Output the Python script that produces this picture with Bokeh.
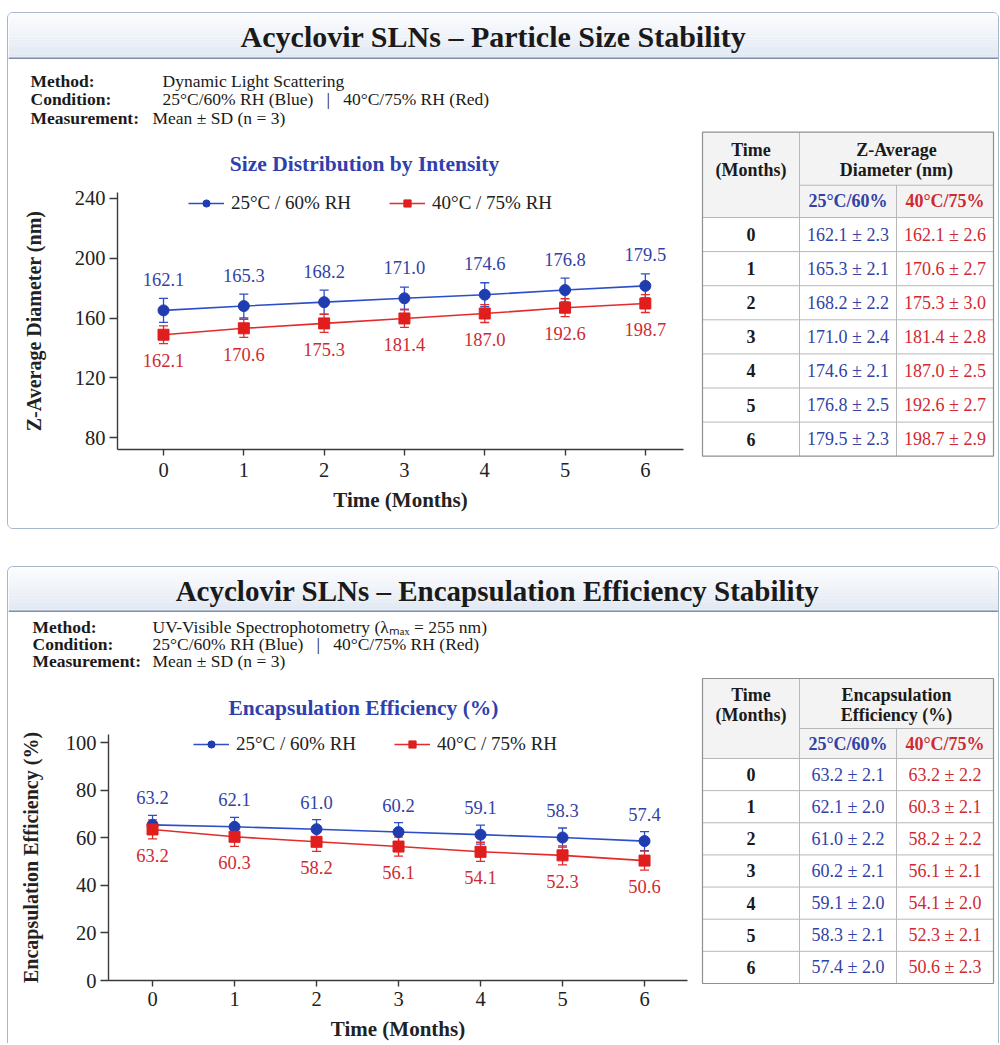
from bokeh.plotting import figure
from bokeh.models import (ColumnDataSource, Range1d, Legend, LegendItem,
                          Whisker, TeeHead, Spacer)
from bokeh.layouts import column, row
from bokeh.embed import file_html
from bokeh.resources import INLINE
from bokeh.core.properties import value

FONT = "Liberation Serif"
BLUE_LINE = "#2d4ec8"
BLUE_MARK = "#1f3cb0"
BLUE_TXT = "#3142a6"
RED_LINE = "#e32b2b"
RED_MARK = "#e01e1e"
RED_TXT = "#cf2a32"
DARK = "#1a1a1a"
NB = "\u00a0"

# ---------------- shared ----------------
months = [0, 1, 2, 3, 4, 5, 6]
legend_labels = ["25°C / 60% RH", "40°C / 75% RH"]
table_cond = ["25°C/60%", "40°C/75%"]
info_keys = ["Method:", "Condition:", "Measurement:"]
table_time_head = "Time\n(Months)"
x_label = "Time (Months)"
condition_text = f"25°C/60% RH (Blue){NB*3}|{NB*3}40°C/75% RH (Red)"

# ---------------- panel 1: particle size ----------------
size_title = "Acyclovir SLNs – Particle Size Stability"
size_info_vals = ["Dynamic Light Scattering", condition_text, "Mean ± SD (n = 3)"]
size_chart_title = "Size Distribution by Intensity"
size_ylabel = "Z-Average Diameter (nm)"
size_table_head = "Z-Average\nDiameter (nm)"
size_yticks = [80, 120, 160, 200, 240]
# positions of the plotted markers / error bars as drawn in the picture
size_plot_blue = [165.1, 168.0, 170.6, 173.2, 175.6, 178.7, 181.5]
size_plot_red = [148.8, 153.1, 156.4, 159.7, 163.0, 166.9, 169.7]
size_bar_blue = [8.0, 8.0, 8.0, 7.5, 8.0, 8.0, 8.0]
size_bar_red = [6.0, 6.0, 6.0, 6.0, 6.0, 6.0, 6.0]
# annotated / tabulated values
size_mean_blue = [162.1, 165.3, 168.2, 171.0, 174.6, 176.8, 179.5]
size_mean_red = [162.1, 170.6, 175.3, 181.4, 187.0, 192.6, 198.7]
size_sd_blue = [2.3, 2.1, 2.2, 2.4, 2.1, 2.5, 2.3]
size_sd_red = [2.6, 2.7, 3.0, 2.8, 2.5, 2.7, 2.9]

# ---------------- panel 2: encapsulation efficiency ----------------
ee_title = "Acyclovir SLNs – Encapsulation Efficiency Stability"
ee_info_vals = ["UV-Visible Spectrophotometry (λₘₐₓ = 255 nm)", condition_text,
                "Mean ± SD (n = 3)"]
ee_chart_title = "Encapsulation Efficiency (%)"
ee_ylabel = "Encapsulation Efficiency (%)"
ee_table_head = "Encapsulation\nEfficiency (%)"
ee_yticks = [0, 20, 40, 60, 80, 100]
ee_plot_blue = [65.4, 64.6, 63.6, 62.4, 61.3, 60.1, 58.6]
ee_plot_red = [63.5, 60.4, 58.3, 56.3, 54.1, 52.6, 50.4]
ee_bar_blue = [4.0, 4.0, 4.0, 4.0, 4.0, 4.0, 4.0]
ee_bar_red = [4.0, 4.0, 4.0, 4.0, 4.0, 4.0, 4.0]
ee_mean_blue = [63.2, 62.1, 61.0, 60.2, 59.1, 58.3, 57.4]
ee_mean_red = [63.2, 60.3, 58.2, 56.1, 54.1, 52.3, 50.6]
ee_sd_blue = [2.1, 2.0, 2.2, 2.1, 2.0, 2.1, 2.0]
ee_sd_red = [2.2, 2.1, 2.2, 2.1, 2.0, 2.1, 2.3]


def blank(p):
    p.axis.visible = False
    p.grid.visible = False
    p.outline_line_color = None


def blend(c1, c2, t):
    a = [int(c1[i:i + 2], 16) for i in (1, 3, 5)]
    b = [int(c2[i:i + 2], 16) for i in (1, 3, 5)]
    return "#" + "".join(f"{round(x + (y - x) * t):02x}" for x, y in zip(a, b))


def make_header(title, w, h, title_x, title_y, fsize):
    p = figure(width=w, height=h, x_range=Range1d(0, w), y_range=Range1d(0, h),
               output_backend="svg", toolbar_location=None, min_border=0)
    blank(p)
    n = 16
    tops = [h - i * h / n for i in range(n)]
    bots = [h - (i + 1) * h / n for i in range(n)]
    cols = [blend("#fbfcfe", "#e1e8f2", i / (n - 1)) for i in range(n)]
    p.quad(left=0, right=w, top=tops, bottom=bots, fill_color=cols, line_color=None)
    p.segment(x0=[0], y0=[1], x1=[w], y1=[1], line_color="#7f90a8", line_width=2)
    p.text(x=[title_x], y=[title_y], text=[title], text_align="center",
           text_baseline="middle", text_font=value(FONT), text_font_size=fsize,
           text_font_style="bold", text_color=DARK)
    return p


def make_info(W, H, vals, key_x, val_x, ys, ctitle, ctitle_x, ctitle_y):
    p = figure(width=W, height=H, x_range=Range1d(0, W), y_range=Range1d(H, 0),
               output_backend="svg", toolbar_location=None, min_border=0)
    blank(p)
    p.text(x=[key_x] * 3, y=ys, text=info_keys, text_baseline="middle",
           text_font=value(FONT), text_font_size="17.5px", text_font_style="bold",
           text_color=DARK)
    p.text(x=val_x, y=ys, text=vals, text_baseline="middle",
           text_font=value(FONT), text_font_size="17.5px", text_color=DARK)
    p.text(x=[ctitle_x], y=[ctitle_y], text=[ctitle], text_align="center",
           text_baseline="middle", text_font=value(FONT), text_font_size="21.5px",
           text_font_style="bold", text_color="#2f3fae")
    return p


def make_chart(W, H, bl, br, bt, bb, xr, yr, yticks, ylabel, ystand, xlstand, xstand,
               blue, red, bar_b, bar_r, lab_b, lab_r, off_b, off_r, leg_x, leg_y):
    p = figure(width=W, height=H, x_range=Range1d(*xr), y_range=Range1d(*yr),
               output_backend="svg", toolbar_location=None,
               min_border_left=bl, min_border_right=br,
               min_border_top=bt, min_border_bottom=bb)
    p.grid.visible = False
    p.outline_line_color = None
    p.xaxis.ticker = months
    p.yaxis.ticker = yticks
    for ax in (p.xaxis[0], p.yaxis[0]):
        ax.axis_line_color = "#3a3a3a"
        ax.axis_line_width = 1.4
        ax.major_tick_line_color = "#3a3a3a"
        ax.major_tick_line_width = 1.4
        ax.major_tick_in = 0
        ax.minor_tick_line_color = None
        ax.major_label_text_font = FONT
        ax.major_label_text_font_size = "20.5px"
        ax.major_label_text_color = "#222222"
        ax.axis_label_text_font = FONT
        ax.axis_label_text_font_style = "bold"
        ax.axis_label_text_color = "#222222"
    p.xaxis.axis_label_text_font_size = "21px"
    p.yaxis.axis_label_text_font_size = "20px"
    p.xaxis.major_tick_out = 6
    p.yaxis.major_tick_out = 8
    p.xaxis.axis_label = x_label
    p.xaxis.major_label_standoff = xlstand
    p.xaxis.axis_label_standoff = xstand
    p.yaxis.axis_label = ylabel
    p.yaxis.major_label_standoff = 4
    p.yaxis.axis_label_standoff = ystand

    # error bars
    for vals, bars, col in ((blue, bar_b, BLUE_LINE), (red, bar_r, RED_LINE)):
        src = ColumnDataSource(dict(x=months,
                                    upper=[v + e for v, e in zip(vals, bars)],
                                    lower=[v - e for v, e in zip(vals, bars)]))
        p.add_layout(Whisker(base="x", upper="upper", lower="lower", source=src,
                             line_color=col, line_width=1.3,
                             upper_head=TeeHead(size=9, line_color=col, line_width=1.3),
                             lower_head=TeeHead(size=9, line_color=col, line_width=1.3)))

    rbl = p.line(months, blue, line_color=BLUE_LINE, line_width=1.6)
    rbs = p.scatter(months, blue, marker="circle", size=11, fill_color=BLUE_MARK,
                    line_color=BLUE_MARK)
    rrl = p.line(months, red, line_color=RED_LINE, line_width=1.6)
    rrs = p.scatter(months, red, marker="square", size=11, fill_color=RED_MARK,
                    line_color=RED_MARK)

    p.text(x=months, y=blue, text=[f"{v:.1f}" for v in lab_b], y_offset=off_b,
           text_align="center", text_baseline="middle", text_font=value(FONT),
           text_font_size="18.5px", text_color=BLUE_TXT)
    p.text(x=months, y=red, text=[f"{v:.1f}" for v in lab_r], y_offset=off_r,
           text_align="center", text_baseline="middle", text_font=value(FONT),
           text_font_size="18.5px", text_color=RED_TXT)

    leg = Legend(items=[LegendItem(label=legend_labels[0], renderers=[rbl, rbs]),
                        LegendItem(label=legend_labels[1], renderers=[rrl, rrs])],
                 orientation="horizontal", location=(leg_x, leg_y),
                 border_line_color=None, background_fill_alpha=0,
                 label_text_font=FONT, label_text_font_size="19px",
                 label_text_color="#222222",
                 glyph_width=36, glyph_height=18, label_height=18,
                 spacing=38, padding=0, margin=0, label_standoff=7)
    p.add_layout(leg)
    return p


def make_table(W, H, top_off, sub_h, head_h, row_h, colw, x0, head, sd_b, sd_r, m_b, m_r):
    p = figure(width=W, height=H,
               x_range=Range1d(-x0 / colw, (W - x0) / colw),
               y_range=Range1d(H - top_off, -top_off),
               output_backend="svg", toolbar_location=None, min_border=0)
    blank(p)
    n = len(months)
    bottom = head_h + n * row_h
    p.quad(left=[0], right=[3], top=[0], bottom=[head_h], fill_color="#f3f3f3",
           line_color=None)
    p.quad(left=[0], right=[3], top=[head_h], bottom=[bottom], fill_color="#ffffff",
           line_color=None)
    ys = [head_h + i * row_h for i in range(n)]
    p.segment(x0=[0] * n, y0=ys, x1=[3] * n, y1=ys, line_color="#b8b8b8", line_width=1)
    p.segment(x0=[1, 1, 2], y0=[sub_h, 0, sub_h], x1=[3, 1, 2], y1=[sub_h, bottom, bottom],
              line_color="#b8b8b8", line_width=1)
    p.quad(left=[0], right=[3], top=[0], bottom=[bottom], fill_color=None,
           line_color="#8f8f8f", line_width=1.2)
    p.text(x=[0.5, 2], y=[sub_h / 2 + 1, sub_h / 2 + 1], text=[table_time_head, head],
           text_align="center", text_baseline="middle", text_font=value(FONT),
           text_font_size="18px", text_font_style="bold", text_color=DARK,
           text_line_height=1.0)
    p.text(x=[1.5, 2.5], y=[(sub_h + head_h) / 2] * 2, text=table_cond,
           text_align="center", text_baseline="middle", text_font=value(FONT),
           text_font_size="18px", text_font_style="bold", text_color=[BLUE_TXT, RED_TXT])
    yc = [head_h + (i + 0.5) * row_h for i in range(n)]
    p.text(x=[0.5] * n, y=yc, text=[str(m) for m in months], text_align="center",
           text_baseline="middle", text_font=value(FONT), text_font_size="18px",
           text_font_style="bold", text_color=DARK)
    p.text(x=[1.5] * n, y=yc, text=[f"{m:.1f} ± {s:.1f}" for m, s in zip(m_b, sd_b)],
           text_align="center", text_baseline="middle", text_font=value(FONT),
           text_font_size="18px", text_color=BLUE_TXT)
    p.text(x=[2.5] * n, y=yc, text=[f"{m:.1f} ± {s:.1f}" for m, s in zip(m_r, sd_r)],
           text_align="center", text_baseline="middle", text_font=value(FONT),
           text_font_size="18px", text_color=RED_TXT)
    return p


PANEL1_STYLE = {"border": "1px solid #a7b7cb", "border-radius": "6px", "overflow": "hidden",
                "background-color": "#ffffff"}
PANEL2_STYLE = {"border": "1px solid #a7b7cb", "border-bottom": "none",
                "border-radius": "6px 6px 0 0", "overflow": "hidden",
                "background-color": "#ffffff"}

# ---------------- panel 1 ----------------
h1 = make_header(size_title, 990, 46, 485, 23, "30px")
i1 = make_info(692, 127, size_info_vals, 22, [154, 154, 144], [21, 39.5, 58],
               size_chart_title, 356, 104)
c1 = make_chart(692, 342, 109, 17, 6, 79, (-0.573, 6.475), (72.0, 244.0), size_yticks,
                size_ylabel, 27, 7, 8, size_plot_blue, size_plot_red, size_bar_blue,
                size_bar_red, size_mean_blue, size_mean_red, -31, 26, 71, 235)
t1 = make_table(298, 469, 72.7, 53, 85.3, 34.1, 97, 2, size_table_head,
                size_sd_blue, size_sd_red, size_mean_blue, size_mean_red)
panel1 = column(column(h1),
                row(column(column(i1), column(c1)), column(t1)),
                styles=PANEL1_STYLE)

# ---------------- panel 2 ----------------
h2 = make_header(ee_title, 990, 45, 489, 22, "29px")
i2 = make_info(692, 115, ee_info_vals, 24, [144, 144, 144], [14, 31, 48],
               ee_chart_title, 355, 95)
c2 = make_chart(692, 316, 100, 13, 7, 63, (-0.537, 6.524), (0, 103.4), ee_yticks,
                ee_ylabel, 21, 5, 8, ee_plot_blue, ee_plot_red, ee_bar_blue, ee_bar_red,
                ee_mean_blue, ee_mean_red, -27, 26, 85, 225)
t2 = make_table(298, 431, 66, 50, 80, 32.14, 97, 2, ee_table_head,
                ee_sd_blue, ee_sd_red, ee_mean_blue, ee_mean_red)
panel2 = column(column(h2),
                row(column(column(i2), column(c2)), column(t2)),
                styles=PANEL2_STYLE)

root = column(Spacer(height=12), row(Spacer(width=7), panel1),
              Spacer(height=37), row(Spacer(width=7), panel2))

open("out.html", "w").write(file_html(root, INLINE))
